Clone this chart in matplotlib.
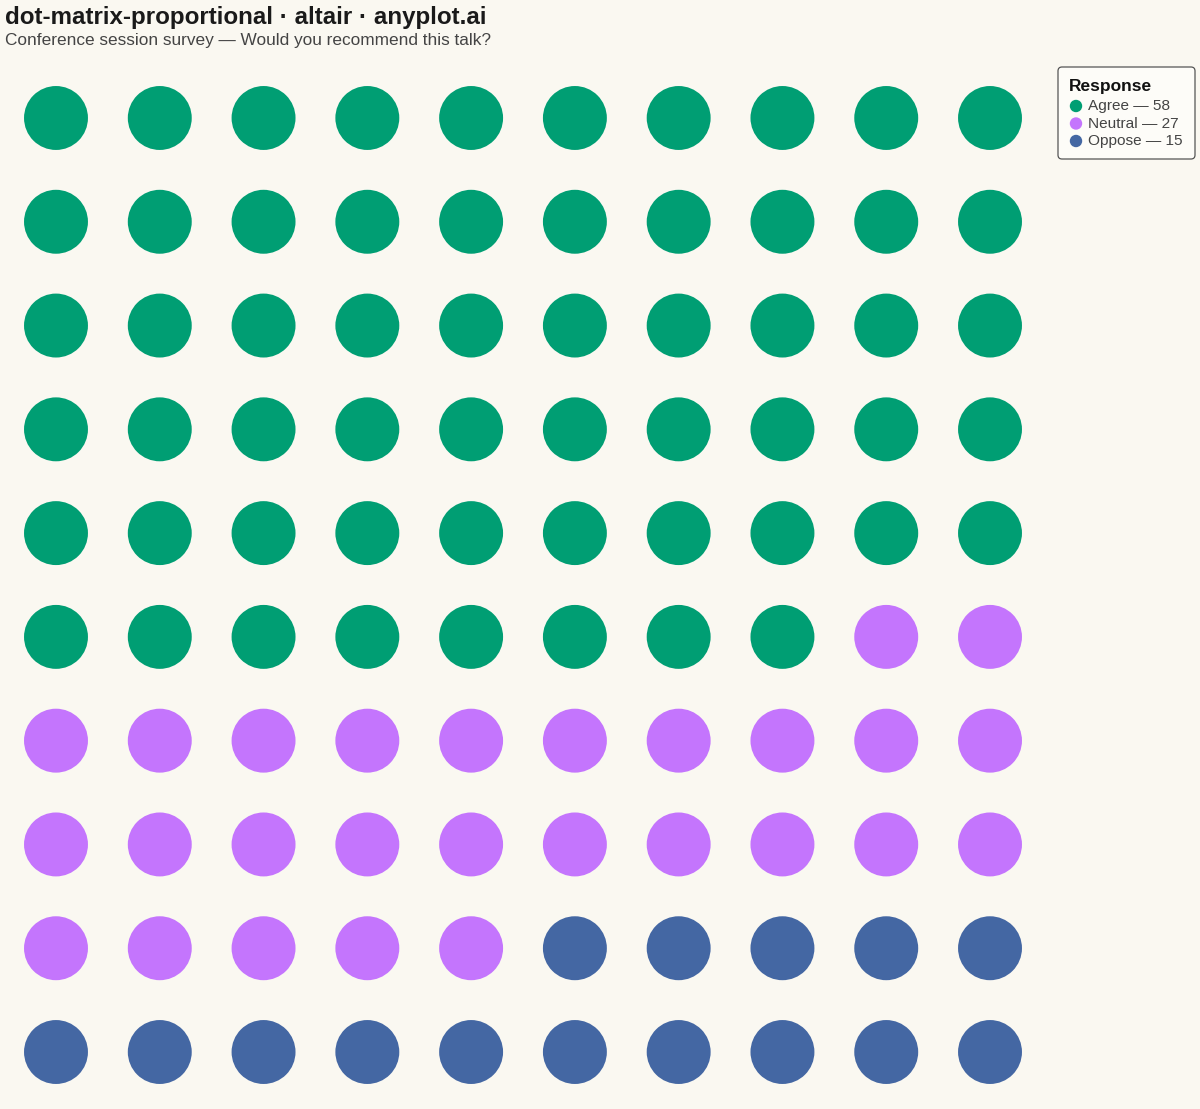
import matplotlib.pyplot as plt
from matplotlib.patches import Circle, FancyBboxPatch

plt.rcParams['font.family'] = ['Liberation Sans', 'DejaVu Sans']

# Umfragedaten
categories = ['Agree', 'Neutral', 'Oppose']
counts = [58, 27, 15]
colors = ['#009E73', '#C475FD', '#4467A3']
n_cols = 10
n_rows = 10

bg = '#FAF8F1'
W, H = 1200, 1109
fig = plt.figure(figsize=(W / 100, H / 100), dpi=100, facecolor=bg)

# Achse in Pixelkoordinaten platzieren
left, right, top, bottom = 4.1, 1041.9, 66.1, 1103.9
ax = fig.add_axes([left / W, 1 - bottom / H, (right - left) / W, (bottom - top) / H])
ax.set_facecolor(bg)
ax.set_xlim(-0.5, n_cols - 0.5)
ax.set_ylim(n_rows - 0.5, -0.5)
ax.axis('off')

# Punkte zeilenweise füllen
idx = 0
for cat, cnt, col in zip(categories, counts, colors):
    for _ in range(cnt):
        r, c = divmod(idx, n_cols)
        ax.add_patch(Circle((c, r), 0.308, color=col, lw=0))
        idx += 1

# Overlay in Pixeln für Titel und Legende
ov = fig.add_axes([0, 0, 1, 1], facecolor='none')
ov.set_xlim(0, W)
ov.set_ylim(H, 0)
ov.axis('off')

ov.text(5, 24, 'dot-matrix-proportional · altair · anyplot.ai',
        fontsize=17.4, fontweight='bold', color='#1a1a1a', va='baseline')
ov.text(5, 45, 'Conference session survey — Would you recommend this talk?',
        fontsize=12.4, color='#444444', va='baseline')

# Legende von Hand
ov.add_patch(FancyBboxPatch((1058, 67), 137, 92, boxstyle='round,pad=0,rounding_size=4',
                            facecolor='#FDFCF8', edgecolor='#555555', lw=0.9))
ov.text(1069, 86, 'Response', fontsize=12.5, fontweight='bold', color='#111111', va='center')
for i, (cat, cnt, col) in enumerate(zip(categories, counts, colors)):
    y = 106 + i * 17.5
    ov.add_patch(Circle((1076, y), 6.2, color=col, lw=0))
    ov.text(1088, y, f'{cat} — {cnt}', fontsize=11.1, color='#444444', va='center')

fig.savefig('out.png', dpi=100, facecolor=bg)
